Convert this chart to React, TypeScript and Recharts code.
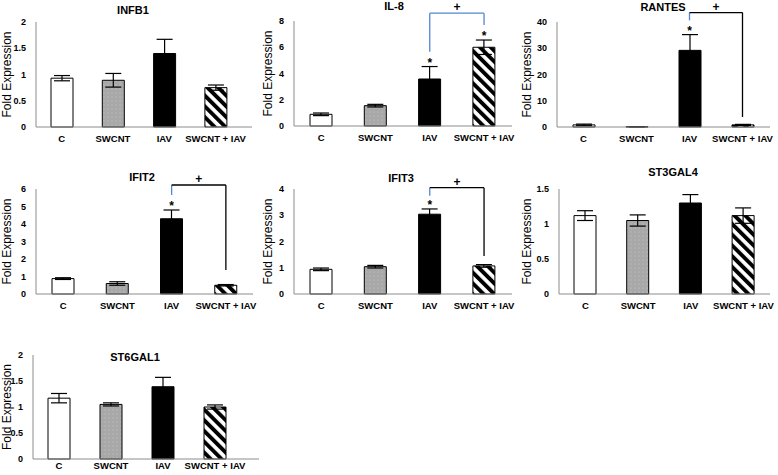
import React from 'react';
import { BarChart, Bar, XAxis, YAxis, ErrorBar, Cell, ReferenceLine, ReferenceDot } from 'recharts';

const groups = ['C', 'SWCNT', 'IAV', 'SWCNT + IAV'];

const infb1Mean = [0.93, 0.89, 1.4, 0.75];
const infb1Err = [0.05, 0.13, 0.27, 0.05];
const infb1Ticks = [0, 0.5, 1, 1.5, 2];

const il8Mean = [0.89, 1.55, 3.58, 6.0];
const il8Err = [0.1, 0.1, 0.95, 0.55];
const il8Ticks = [0, 2, 4, 6, 8];
const il8Stars = [false, false, true, true];
const il8Bracket = [5.66, 8.6, 7.7]; // left foot, top, right foot

const rantesMean = [0.8, 0.1, 29.2, 0.8];
const rantesErr = [0.3, 0.05, 6.0, 0.2];
const rantesTicks = [0, 10, 20, 30, 40];
const rantesStars = [false, false, true, false];
const rantesBracket = [40.6, 43.6, 3.8];

const ifit2Mean = [0.88, 0.6, 4.3, 0.5];
const ifit2Err = [0.05, 0.1, 0.5, 0.04];
const ifit2Ticks = [0, 1, 2, 3, 4, 5, 6];
const ifit2Stars = [false, false, true, false];
const ifit2Bracket = [5.66, 6.23, 1.37];

const ifit3Mean = [0.94, 1.04, 3.04, 1.07];
const ifit3Err = [0.05, 0.05, 0.2, 0.05];
const ifit3Ticks = [0, 1, 2, 3, 4];
const ifit3Stars = [false, false, true, false];
const ifit3Bracket = [3.74, 4.05, 1.45];

const st3gal4Mean = [1.12, 1.05, 1.3, 1.12];
const st3gal4Err = [0.07, 0.08, 0.12, 0.11];
const st3gal4Ticks = [0, 0.5, 1, 1.5];

const st6gal1Mean = [1.17, 1.05, 1.39, 1.0];
const st6gal1Err = [0.09, 0.03, 0.18, 0.04];
const st6gal1Ticks = [0, 0.5, 1, 1.5, 2];

const FONT = '"Liberation Sans", Arial, sans-serif';
const BLUE = '#4f86d6';
const fills = ['#ffffff', 'url(#dots)', '#000000', 'url(#stripes)'];

type Layout = {
  axisX: number;
  top: number;
  zero: number;
  lineEnd: number;
  band: number;
  titleX: number;
  titleY: number;
  labelDx: number;
  tickGap?: number;
};

type PanelProps = {
  title: string;
  mean: number[];
  err: number[];
  ticks: number[];
  layout: Layout;
  stars?: boolean[];
  bracket?: number[];
  bracketColors?: string[];
};

function Panel({ title, mean, err, ticks, layout, stars, bracket, bracketColors }: PanelProps) {
  const data = groups.map((g, i) => ({ group: g, mean: mean[i], err: err[i] }));
  const yw = 45;
  const mTop = 30;
  const mRight = 24;
  const xh = 24;
  const left = layout.axisX - yw;
  const width = layout.lineEnd - left + mRight;
  const height = mTop + (layout.zero - layout.top) + xh;
  const padRight = Math.max(0, layout.lineEnd - (layout.axisX + 4 * layout.band));
  const colors = bracketColors || ['#000', '#000', '#000'];

  return (
    <>
      <div
        style={{
          position: 'absolute',
          left: layout.titleX,
          top: layout.titleY,
          transform: 'translate(-50%, -50%)',
          fontFamily: FONT,
          fontWeight: 'bold',
          fontSize: 11,
          whiteSpace: 'nowrap',
        }}
      >
        {title}
      </div>
      <div style={{ position: 'absolute', left, top: layout.top - mTop }}>
        <BarChart width={width} height={height} data={data} margin={{ top: mTop, right: mRight, bottom: 0, left: 0 }}>
          <XAxis
            dataKey="group"
            interval={0}
            height={xh}
            tickLine={false}
            tickMargin={layout.tickGap ?? 2}
            axisLine={{ stroke: '#8c8c8c' }}
            padding={{ left: 0, right: padRight }}
            tick={{ fontSize: 9.5, fontWeight: 'bold', fill: '#000', fontFamily: FONT }}
          />
          <YAxis
            width={yw}
            domain={[0, ticks[ticks.length - 1]]}
            ticks={ticks}
            tickLine={false}
            tickMargin={4}
            axisLine={{ stroke: '#8c8c8c' }}
            tick={{ fontSize: 9, fontWeight: 'bold', fill: '#000', fontFamily: FONT }}
            label={{
              value: 'Fold Expression',
              angle: -90,
              position: 'insideLeft',
              offset: yw - layout.labelDx,
              style: { textAnchor: 'middle' },
              fontSize: 12,
              fill: '#000',
              fontFamily: FONT,
            }}
          />
          <Bar dataKey="mean" barSize={22} stroke="#000" strokeWidth={1} isAnimationActive={false}>
            {data.map((d, i) => (
              <Cell key={d.group} fill={fills[i]} />
            ))}
            <ErrorBar dataKey="err" width={8} stroke="#000" strokeWidth={1.2} />
          </Bar>
          {stars &&
            stars.map((s, i) =>
              s ? (
                <ReferenceDot
                  key={'s' + i}
                  x={groups[i]}
                  y={mean[i] + err[i]}
                  r={0}
                  fill="none"
                  stroke="none"
                  label={{ value: '*', position: 'top', offset: 0, fontSize: 12, fontWeight: 'bold', fill: '#000', fontFamily: FONT }}
                />
              ) : null
            )}
          {bracket && (
            <ReferenceLine
              ifOverflow="visible"
              stroke={colors[0]}
              strokeWidth={1.3}
              segment={[
                { x: groups[2], y: bracket[0] },
                { x: groups[2], y: bracket[1] },
              ]}
            />
          )}
          {bracket && (
            <ReferenceLine
              ifOverflow="visible"
              stroke={colors[1]}
              strokeWidth={1.3}
              segment={[
                { x: groups[2], y: bracket[1] },
                { x: groups[3], y: bracket[1] },
              ]}
              label={{ value: '+', position: 'top', offset: 2, fontSize: 12, fontWeight: 'bold', fill: '#000', fontFamily: FONT }}
            />
          )}
          {bracket && (
            <ReferenceLine
              ifOverflow="visible"
              stroke={colors[2]}
              strokeWidth={1.3}
              segment={[
                { x: groups[3], y: bracket[1] },
                { x: groups[3], y: bracket[2] },
              ]}
            />
          )}
        </BarChart>
      </div>
    </>
  );
}

export default function App() {
  return (
    <div style={{ position: 'absolute', left: 0, top: 0, width: 778, height: 475, background: '#fff', overflow: 'hidden' }}>
      <svg width={0} height={0} style={{ position: 'absolute' }}>
        <defs>
          <pattern id="dots" width={4} height={4} patternUnits="userSpaceOnUse">
            <rect width={4} height={4} fill="#a8a8a8" />
            <circle cx={1} cy={1} r={0.5} fill="#d4d4d4" />
          </pattern>
          <pattern id="stripes" width={7.6} height={7.6} patternUnits="userSpaceOnUse" patternTransform="rotate(-45)">
            <rect width={7.6} height={7.6} fill="#fff" />
            <rect width={3.9} height={7.6} fill="#000" />
          </pattern>
        </defs>
      </svg>
      <Panel
        title="INFB1"
        mean={infb1Mean}
        err={infb1Err}
        ticks={infb1Ticks}
        layout={{ axisX: 36, top: 21.5, zero: 126.5, lineEnd: 252, band: 51.3, titleX: 133, titleY: 10, labelDx: 29 }}
      />
      <Panel
        title="IL-8"
        mean={il8Mean}
        err={il8Err}
        ticks={il8Ticks}
        stars={il8Stars}
        bracket={il8Bracket}
        bracketColors={[BLUE, BLUE, BLUE]}
        layout={{ axisX: 294, top: 21, zero: 126, lineEnd: 512, band: 54.3, titleX: 394, titleY: 6, labelDx: 26 }}
      />
      <Panel
        title="RANTES"
        mean={rantesMean}
        err={rantesErr}
        ticks={rantesTicks}
        stars={rantesStars}
        bracket={rantesBracket}
        bracketColors={[BLUE, '#000', '#000']}
        layout={{ axisX: 557, top: 21.7, zero: 126.7, lineEnd: 770, band: 53, titleX: 663, titleY: 7, labelDx: 30 }}
      />
      <Panel
        title="IFIT2"
        mean={ifit2Mean}
        err={ifit2Err}
        ticks={ifit2Ticks}
        stars={ifit2Stars}
        bracket={ifit2Bracket}
        bracketColors={[BLUE, '#000', '#000']}
        layout={{ axisX: 36, top: 189, zero: 294, lineEnd: 253, band: 54.3, titleX: 142, titleY: 177, labelDx: 29 }}
      />
      <Panel
        title="IFIT3"
        mean={ifit3Mean}
        err={ifit3Err}
        ticks={ifit3Ticks}
        stars={ifit3Stars}
        bracket={ifit3Bracket}
        bracketColors={[BLUE, '#000', '#000']}
        layout={{ axisX: 294, top: 189, zero: 294, lineEnd: 512, band: 54.3, titleX: 401, titleY: 178, labelDx: 26 }}
      />
      <Panel
        title="ST3GAL4"
        mean={st3gal4Mean}
        err={st3gal4Err}
        ticks={st3gal4Ticks}
        layout={{ axisX: 559, top: 189, zero: 294, lineEnd: 770, band: 52.7, titleX: 673, titleY: 172, labelDx: 32 }}
      />
      <Panel
        title="ST6GAL1"
        mean={st6gal1Mean}
        err={st6gal1Err}
        ticks={st6gal1Ticks}
        layout={{ axisX: 33, top: 355, zero: 459, lineEnd: 259, band: 52, titleX: 135, titleY: 357, labelDx: 26, tickGap: -3 }}
      />
    </div>
  );
}
